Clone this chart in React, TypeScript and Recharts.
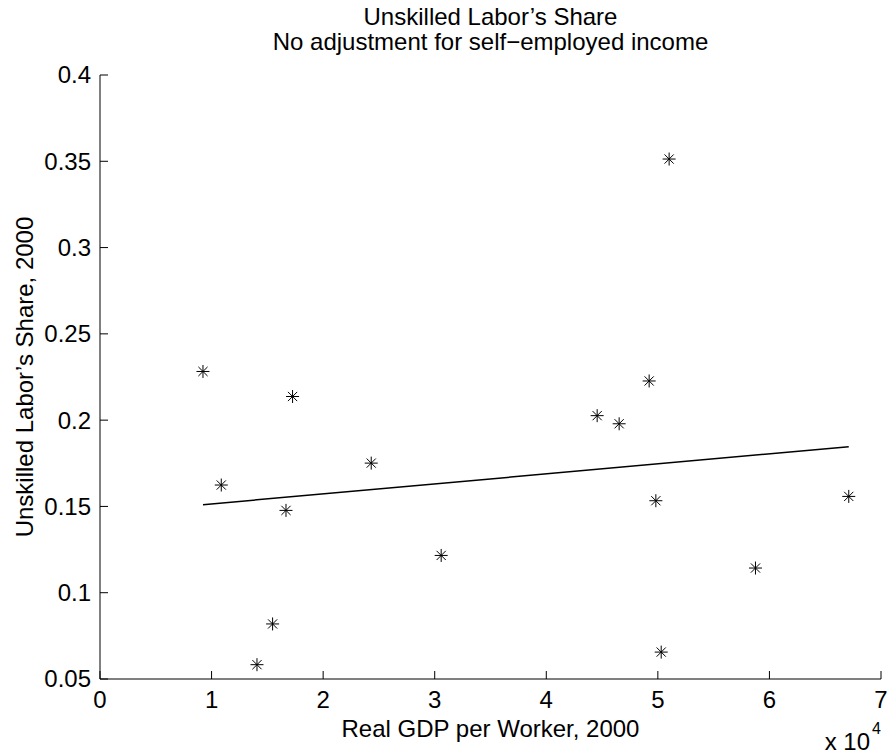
import React from 'react';
import { ScatterChart, Scatter, XAxis, YAxis } from 'recharts';

// Real GDP per worker (2000 dollars) and unskilled labor's share, one entry per country
const gdpPerWorker = [9230, 17260, 10870, 16670, 24310, 15470, 14070, 51010, 49220, 44560, 46530, 49820, 30580, 50300, 58750, 67110];
const unskilledShare = [0.2282, 0.2137, 0.1624, 0.1477, 0.1751, 0.0819, 0.0583, 0.3513, 0.2227, 0.2026, 0.1979, 0.1533, 0.1216, 0.0656, 0.1143, 0.1558];

// Least-squares fit line, endpoints at the smallest and largest GDP values
const fitX = [9230, 67110];
const fitY = [0.151, 0.1846];

const xTicks = [0, 10000, 20000, 30000, 40000, 50000, 60000, 70000];
const yTicks = [0.05, 0.1, 0.15, 0.2, 0.25, 0.3, 0.35, 0.4];
const yTickLabels = ['0.05', '0.1', '0.15', '0.2', '0.25', '0.3', '0.35', '0.4'];

const points = gdpPerWorker.map((x, i) => ({ x, y: unskilledShare[i] }));
const fitLine = fitX.map((x, i) => ({ x, y: fitY[i] }));

const FONT = '"Liberation Sans", Arial, Helvetica, sans-serif';
const FS = 24;
const TICK_LEN = 8;

const XTick = (props: any) => {
  const { x, y, payload } = props;
  return (
    <g>
      <line x1={x} y1={y} x2={x} y2={y - TICK_LEN} stroke="#000" strokeWidth={1} />
      <text x={x} y={y + 29} textAnchor="middle" fontSize={FS} fontFamily={FONT} fill="#000">
        {String(payload.value / 10000)}
      </text>
    </g>
  );
};

const YTick = (props: any) => {
  const { x, y, payload } = props;
  const i = yTicks.indexOf(payload.value);
  const label = i >= 0 ? yTickLabels[i] : String(payload.value);
  return (
    <g>
      <line x1={x} y1={y} x2={x + TICK_LEN} y2={y} stroke="#000" strokeWidth={1} />
      <text x={x - 9} y={y} dy="0.35em" textAnchor="end" fontSize={FS} fontFamily={FONT} fill="#000">
        {label}
      </text>
    </g>
  );
};

// Asterisk marker: a plus and a cross overlaid
const Star = (props: any) => {
  const { cx, cy } = props;
  if (cx == null || cy == null) return <g />;
  const r = 6.5;
  const d = 4.6;
  return (
    <g stroke="#000" strokeWidth={1}>
      <line x1={cx - r} y1={cy} x2={cx + r} y2={cy} />
      <line x1={cx} y1={cy - r} x2={cx} y2={cy + r} />
      <line x1={cx - d} y1={cy - d} x2={cx + d} y2={cy + d} />
      <line x1={cx - d} y1={cy + d} x2={cx + d} y2={cy - d} />
    </g>
  );
};

const NoMarker = () => <g />;

const XAxisTitle = (props: any) => {
  const vb = props.viewBox || {};
  const cx = vb.x + vb.width / 2;
  const right = vb.x + vb.width;
  return (
    <g fontFamily={FONT} fill="#000">
      <text x={cx} y={vb.y + 58} textAnchor="middle" fontSize={FS}>
        Real GDP per Worker, 2000
      </text>
      <text x={right - 11} y={vb.y + 71} textAnchor="end" fontSize={FS}>
        x 10
      </text>
      <text x={right - 9} y={vb.y + 55} textAnchor="start" fontSize={16}>
        4
      </text>
    </g>
  );
};

const YAxisTitle = (props: any) => {
  const vb = props.viewBox || {};
  const cy = vb.y + vb.height / 2;
  const cx = 24;
  return (
    <text
      x={cx}
      y={cy}
      transform={`rotate(-90 ${cx} ${cy})`}
      textAnchor="middle"
      dominantBaseline="central"
      fontSize={FS}
      fontFamily={FONT}
      fill="#000"
    >
      Unskilled Labor’s Share, 2000
    </text>
  );
};

export default function App() {
  return (
    <div style={{ position: 'absolute', left: 0, top: 0, width: 893, height: 756, background: '#fff' }}>
      <div
        style={{
          position: 'absolute',
          left: 100,
          width: 781,
          top: 4,
          textAlign: 'center',
          fontFamily: FONT,
          fontSize: FS,
          lineHeight: '25px',
          color: '#000',
        }}
      >
        <div>Unskilled Labor’s Share</div>
        <div>No adjustment for self−employed income</div>
      </div>
      <ScatterChart width={893} height={756} margin={{ top: 75, right: 12, bottom: 0, left: 0 }}>
        <XAxis
          type="number"
          dataKey="x"
          domain={[0, 70000]}
          ticks={xTicks}
          interval={0}
          height={77}
          tickSize={0}
          tickMargin={0}
          tickLine={false}
          tick={<XTick />}
          axisLine={{ stroke: '#000', strokeWidth: 1 }}
          label={{ content: <XAxisTitle /> }}
        />
        <YAxis
          type="number"
          dataKey="y"
          domain={[0.05, 0.4]}
          ticks={yTicks}
          interval={0}
          width={100}
          tickSize={0}
          tickMargin={0}
          tickLine={false}
          tick={<YTick />}
          axisLine={{ stroke: '#000', strokeWidth: 1 }}
          label={{ content: <YAxisTitle /> }}
        />
        <Scatter
          data={fitLine}
          line={{ stroke: '#000', strokeWidth: 1.5 }}
          shape={<NoMarker />}
          isAnimationActive={false}
          legendType="none"
        />
        <Scatter data={points} shape={<Star />} isAnimationActive={false} legendType="none" />
      </ScatterChart>
    </div>
  );
}
